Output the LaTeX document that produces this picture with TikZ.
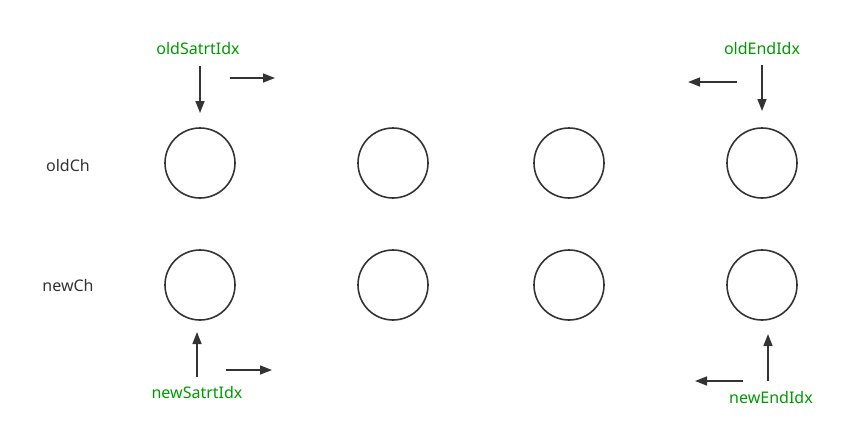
\documentclass[tikz,border=0pt]{standalone}
\usepackage{fontspec}
\setmainfont{Noto Sans}
\usetikzlibrary{arrows.meta}
\definecolor{lbl}{HTML}{009A00}
\definecolor{ink}{HTML}{333333}
\begin{document}
\begin{tikzpicture}[x=1pt,y=-1pt,
  elem/.style={circle,draw=ink,line width=1.6pt,minimum size=70pt,inner sep=0pt},
  idx/.style={text=lbl,font=\fontsize{16}{18}\selectfont,inner sep=1pt},
  rowlbl/.style={text=ink,font=\fontsize{16}{18}\selectfont,inner sep=1pt},
  ptr/.style={draw=ink,line width=1.6pt,-{Triangle[length=12pt,width=9pt]}}]
\useasboundingbox (0,0) rectangle (844,442);
% row labels
\node[rowlbl] (oldch) at (68,165) {oldCh};
\node[rowlbl] (newch) at (68,285) {newCh};
% circles
\foreach \i/\x in {1/200,2/393,3/569,4/762}{
  \node[elem] (o\i) at (\x,163) {};
  \node[elem] (n\i) at (\x,285) {};
}
% index labels
\node[idx] (osi) at (198,48) {oldSatrtIdx};
\node[idx] (oei) at (762,48) {oldEndIdx};
\node[idx] (nsi) at (197,392) {newSatrtIdx};
\node[idx] (nei) at (771,397) {newEndIdx};
% coordinates
\coordinate (osa) at (200,66);  \coordinate (osb) at (200,113);
\coordinate (osr1) at (230,78); \coordinate (osr2) at (275,78);
\coordinate (oea) at (762,65);  \coordinate (oeb) at (762,111);
\coordinate (oel1) at (737,82); \coordinate (oel2) at (688,82);
\coordinate (nsa) at (197,377); \coordinate (nsb) at (197,332);
\coordinate (nsr1) at (226,370); \coordinate (nsr2) at (272,370);
\coordinate (nea) at (768,381); \coordinate (neb) at (768,334);
\coordinate (nel1) at (743,381); \coordinate (nel2) at (695,381);
% arrows
\draw[ptr] (osa) -- (osb);
\draw[ptr] (osr1) -- (osr2);
\draw[ptr] (oea) -- (oeb);
\draw[ptr] (oel1) -- (oel2);
\draw[ptr] (nsa) -- (nsb);
\draw[ptr] (nsr1) -- (nsr2);
\draw[ptr] (nea) -- (neb);
\draw[ptr] (nel1) -- (nel2);
\end{tikzpicture}
\end{document}
